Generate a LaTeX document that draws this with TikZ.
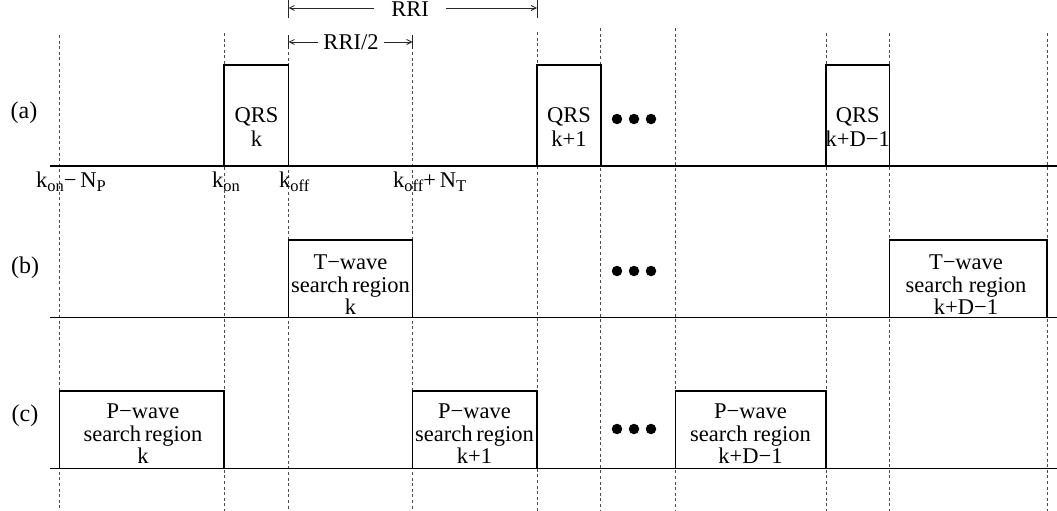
\documentclass[tikz,border=0pt]{standalone}
\usepackage{fontspec}
\setmainfont{Liberation Serif}
\usetikzlibrary{arrows.meta}
\newcommand{\lowsub}[1]{\raisebox{-4.5pt}{\fontsize{16.5}{16.5}\selectfont #1}}
\begin{document}
\begin{tikzpicture}[x=1pt,y=-1pt,
  font=\fontsize{22.5}{22.5}\selectfont,
  guide/.style={draw=black!70, dash pattern=on 3pt off 2.6pt, line width=0.8pt},
  axisline/.style={draw=black, line width=1.2pt},
  boxline/.style={draw=black, line width=1.9pt},
  region/.style={inner sep=0pt, outer sep=0pt, anchor=south west},
  lbl/.style={align=center, inner sep=0pt},
  rowlbl/.style={inner sep=0pt, font=\fontsize{24}{24}\selectfont},
  dimline/.style={draw=black!85, line width=0.8pt, -{Straight Barb[length=5pt,width=5pt]}},
  tickline/.style={draw=black!85, line width=0.9pt},
  dotnode/.style={circle, fill=black, inner sep=0pt, minimum size=10.5pt},
  axlbl/.style={anchor=base west, inner sep=0pt}
]
\useasboundingbox (0,0) rectangle (1057,511);

% guides
\foreach \n/\x/\yt in {g1/59.5/35, g2/224.3/33, g3/288.5/52, g4/412.5/52, g5/537/32,
                        g6/600.8/28, g7/675.5/28, g8/826/33, g9/889.5/33, g10/1047/33} {
  \coordinate (\n t) at (\x,\yt);
  \coordinate (\n b) at (\x,511);
  \draw[guide] (\n t) -- (\n b);
}

% axes
\coordinate (axA0) at (50,166);   \coordinate (axA1) at (1057,166);
\coordinate (axB0) at (50,317.5); \coordinate (axB1) at (1057,317.5);
\coordinate (axC0) at (50,468.5); \coordinate (axC1) at (1057,468.5);
\draw[axisline] (axA0) -- (axA1);
\draw[axisline] (axB0) -- (axB1);
\draw[axisline] (axC0) -- (axC1);

% row labels
\node[rowlbl] (la) at (24,113) {(a)};
\node[rowlbl] (lb) at (25,268) {(b)};
\node[rowlbl] (lc) at (25,416) {(c)};

% QRS boxes
\node[region, minimum width=64.2pt, minimum height=101pt] (qrs1) at (224.3,166) {};
\node[region, minimum width=63.8pt, minimum height=101pt] (qrs2) at (537,166) {};
\node[region, minimum width=63.5pt, minimum height=101pt] (qrs3) at (826,166) {};
\foreach \b in {qrs1,qrs2,qrs3}
  \draw[boxline] (\b.south west) |- (\b.north east) -- (\b.south east);
\node[lbl] (qrs1t) at (256.4,127) {QRS\\[1.5pt]k};
\node[lbl] (qrs2t) at (568.9,127) {QRS\\[1.5pt]k+1};
\node[lbl] (qrs3t) at (857.8,127) {QRS\\[1.5pt]k+D−1};

% T-wave boxes
\node[region, minimum width=124pt, minimum height=77.5pt] (tw1) at (288.5,317.5) {};
\node[region, minimum width=157.5pt, minimum height=77.5pt] (tw2) at (889.5,317.5) {};
\foreach \b in {tw1,tw2}
  \draw[boxline] (\b.south west) |- (\b.north east) -- (\b.south east);
\node[lbl] (tw1t) at (350.5,285) {T−wave\\search\hspace{0.16em}region\\k};
\node[lbl] (tw2t) at (966,285) {T−wave\\search region\\k+D−1};

% P-wave boxes
\node[region, minimum width=164.8pt, minimum height=77.5pt] (pw1) at (59.5,468.5) {};
\node[region, minimum width=124.5pt, minimum height=77.5pt] (pw2) at (412.5,468.5) {};
\node[region, minimum width=150.5pt, minimum height=77.5pt] (pw3) at (675.5,468.5) {};
\foreach \b in {pw1,pw2,pw3}
  \draw[boxline] (\b.south west) |- (\b.north east) -- (\b.south east);
\node[lbl] (pw1t) at (143,434) {P−wave\\search\hspace{0.16em}region\\k};
\node[lbl] (pw2t) at (474.5,434) {P−wave\\search\hspace{0.16em}region\\k+1};
\node[lbl] (pw3t) at (750.5,434) {P−wave\\search region\\k+D−1};

% dots
\foreach \r/\y in {a/119, b/271, c/429} {
  \node[dotnode] (d\r1) at (617,\y) {};
  \node[dotnode] (d\r2) at (634,\y) {};
  \node[dotnode] (d\r3) at (651,\y) {};
}

% axis labels
\node[axlbl] (kon1) at (36,187) {k\lowsub{on}−\,N\lowsub{P}};
\node[axlbl] (kon2) at (212,187) {k\lowsub{on}};
\node[axlbl] (koff1) at (279,187) {k\lowsub{off}};
\node[axlbl] (koff2) at (393,187) {k\lowsub{off}+\,N\lowsub{T}};

% RRI dimension
\node[inner xsep=17pt, inner ysep=0pt] (rri) at (410,9.5) {RRI};
\coordinate (rriL) at (288.5,8);
\coordinate (rriR) at (537,8);
\draw[dimline] (rri.west |- rriL) -- (rriL);
\draw[dimline] (rri.east |- rriR) -- (rriR);
\coordinate (t1a) at (288.5,0); \coordinate (t1b) at (288.5,18);
\coordinate (t2a) at (537,0);   \coordinate (t2b) at (537,18);
\draw[tickline] (t1a) -- (t1b);
\draw[tickline] (t2a) -- (t2b);

% RRI/2 dimension
\node[inner xsep=5pt, inner ysep=0pt] (rrih) at (351,42) {RRI/2};
\coordinate (rrihL) at (288.5,42);
\coordinate (rrihR) at (412.5,42);
\draw[dimline] (rrih.west) -- (rrihL);
\draw[dimline] (rrih.east) -- (rrihR);
\coordinate (t3a) at (288.5,35); \coordinate (t3b) at (288.5,49);
\coordinate (t4a) at (412.5,35); \coordinate (t4b) at (412.5,49);
\draw[tickline] (t3a) -- (t3b);
\draw[tickline] (t4a) -- (t4b);
\end{tikzpicture}
\end{document}
